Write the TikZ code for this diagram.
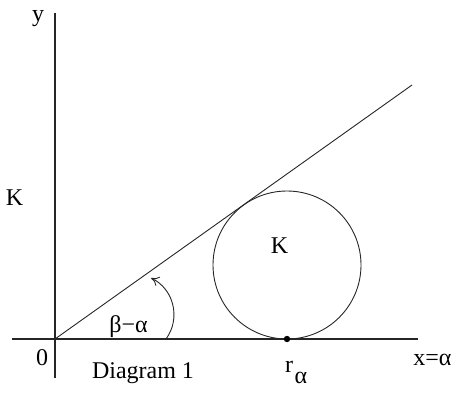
\documentclass[tikz,border=0pt]{standalone}
\usepackage{fontspec}
\setmainfont{Liberation Serif}
\usetikzlibrary{arrows.meta}
\begin{document}
\begin{tikzpicture}[x=1pt,y=-1pt,
  axis/.style={line width=1.3pt,draw=black!85},
  thin/.style={line width=0.9pt,draw=black!85},
  lbl/.style={inner sep=0pt,anchor=base,font=\fontsize{24}{28}\selectfont}]
\useasboundingbox (0,0) rectangle (462,393);
% axes
\coordinate (ytop) at (55,13);
\coordinate (ybot) at (55,378);
\coordinate (xl) at (12,339);
\coordinate (xr) at (418,339);
\coordinate (O) at (55,339);
\coordinate (rayend) at (412,85);
\draw[axis] (ybot) -- (ytop);
\draw[axis] (xl) -- (xr);
\draw[thin] (O) -- (rayend);
% circle
\node[circle,draw=black!85,line width=0.9pt,minimum size=148pt,inner sep=0pt] (circ) at (287,265) {};
\fill (287,339) circle (3.2pt);
% angle arrow
\coordinate (arcA) at (166,339);
\coordinate (arcB) at (151,278);
\draw[thin,-{To[length=8pt,width=10pt]}] (arcA) .. controls (181,318.6) and (174,289) .. (arcB);
% labels
\node[lbl] (ylab) at (38,22) {y};
\node[lbl] (Klab) at (14.5,205) {K};
\node[lbl] (zero) at (42,365) {0};
\node[lbl] (diag) at (143,378) {Diagram 1};
\node[lbl] (ang) at (128.5,332) {β−α};
\node[lbl] (Kc) at (279.5,253) {K};
\node[lbl] (r) at (289,372) {r};
\node[lbl] (ralpha) at (301,383) {α};
\node[lbl] (xeq) at (432.5,365) {x=α};
\end{tikzpicture}
\end{document}
